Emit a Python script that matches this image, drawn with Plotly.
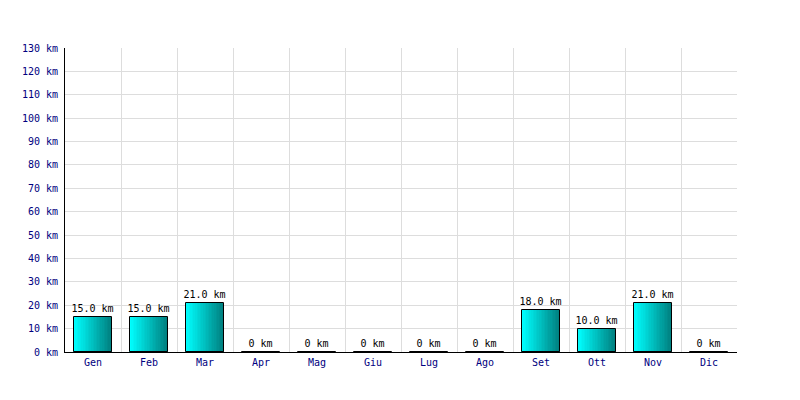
import plotly.graph_objects as go

months = ["Gen", "Feb", "Mar", "Apr", "Mag", "Giu", "Lug", "Ago", "Set", "Ott", "Nov", "Dic"]
distance_km = [15.0, 15.0, 21.0, 0, 0, 0, 0, 0, 18.0, 10.0, 21.0, 0]
labels = [f"{v:.1f} km" if v else "0 km" for v in distance_km]

FONT = "DejaVu Sans Mono"
bar_w = 0.68
n_slices = 24
c0 = (0, 255, 255)
c1 = (0, 128, 128)

fig = go.Figure()
for k in range(n_slices):
    t = k / (n_slices - 1)
    col = tuple(round(a + (b - a) * t) for a, b in zip(c0, c1))
    fig.add_trace(go.Bar(
        x=months, y=distance_km,
        width=bar_w / n_slices + 0.003,
        offset=-bar_w / 2 + k * bar_w / n_slices,
        marker=dict(color=f"rgb{col}", line=dict(width=0)),
        hoverinfo="skip", showlegend=False,
    ))
fig.add_trace(go.Bar(
    x=months, y=distance_km,
    width=bar_w, offset=-bar_w / 2,
    marker=dict(color="rgba(0,0,0,0)", line=dict(color="black", width=1)),
    text=labels, textposition="outside", cliponaxis=False,
    textfont=dict(family=FONT, size=10, color="black"),
    showlegend=False,
))

fig.update_layout(
    width=800, height=400,
    margin=dict(l=57, r=71, t=40, b=56),
    paper_bgcolor="white", plot_bgcolor="white",
    barmode="overlay", bargap=0,
    font=dict(family=FONT, size=10, color="#000080"),
    uniformtext=dict(minsize=10, mode="show"),
)
fig.update_xaxes(
    type="category", tickson="boundaries", showgrid=True, gridcolor="#dddddd", gridwidth=1,
    showline=True, linecolor="black", linewidth=1, ticks="", ticklen=0,
    tickfont=dict(family=FONT, size=10, color="#000080"),
    range=[-0.5, 11.5], zeroline=False, mirror=False, ticklabelstandoff=1,
)
fig.update_yaxes(
    range=[0, 130], dtick=10, ticksuffix=" km", showgrid=True, gridcolor="#dddddd", gridwidth=1,
    showline=True, linecolor="black", linewidth=1, ticks="", zeroline=False,
    tickfont=dict(family=FONT, size=10, color="#000080"), ticklabelstandoff=4,
)

fig.write_html("out.html")
